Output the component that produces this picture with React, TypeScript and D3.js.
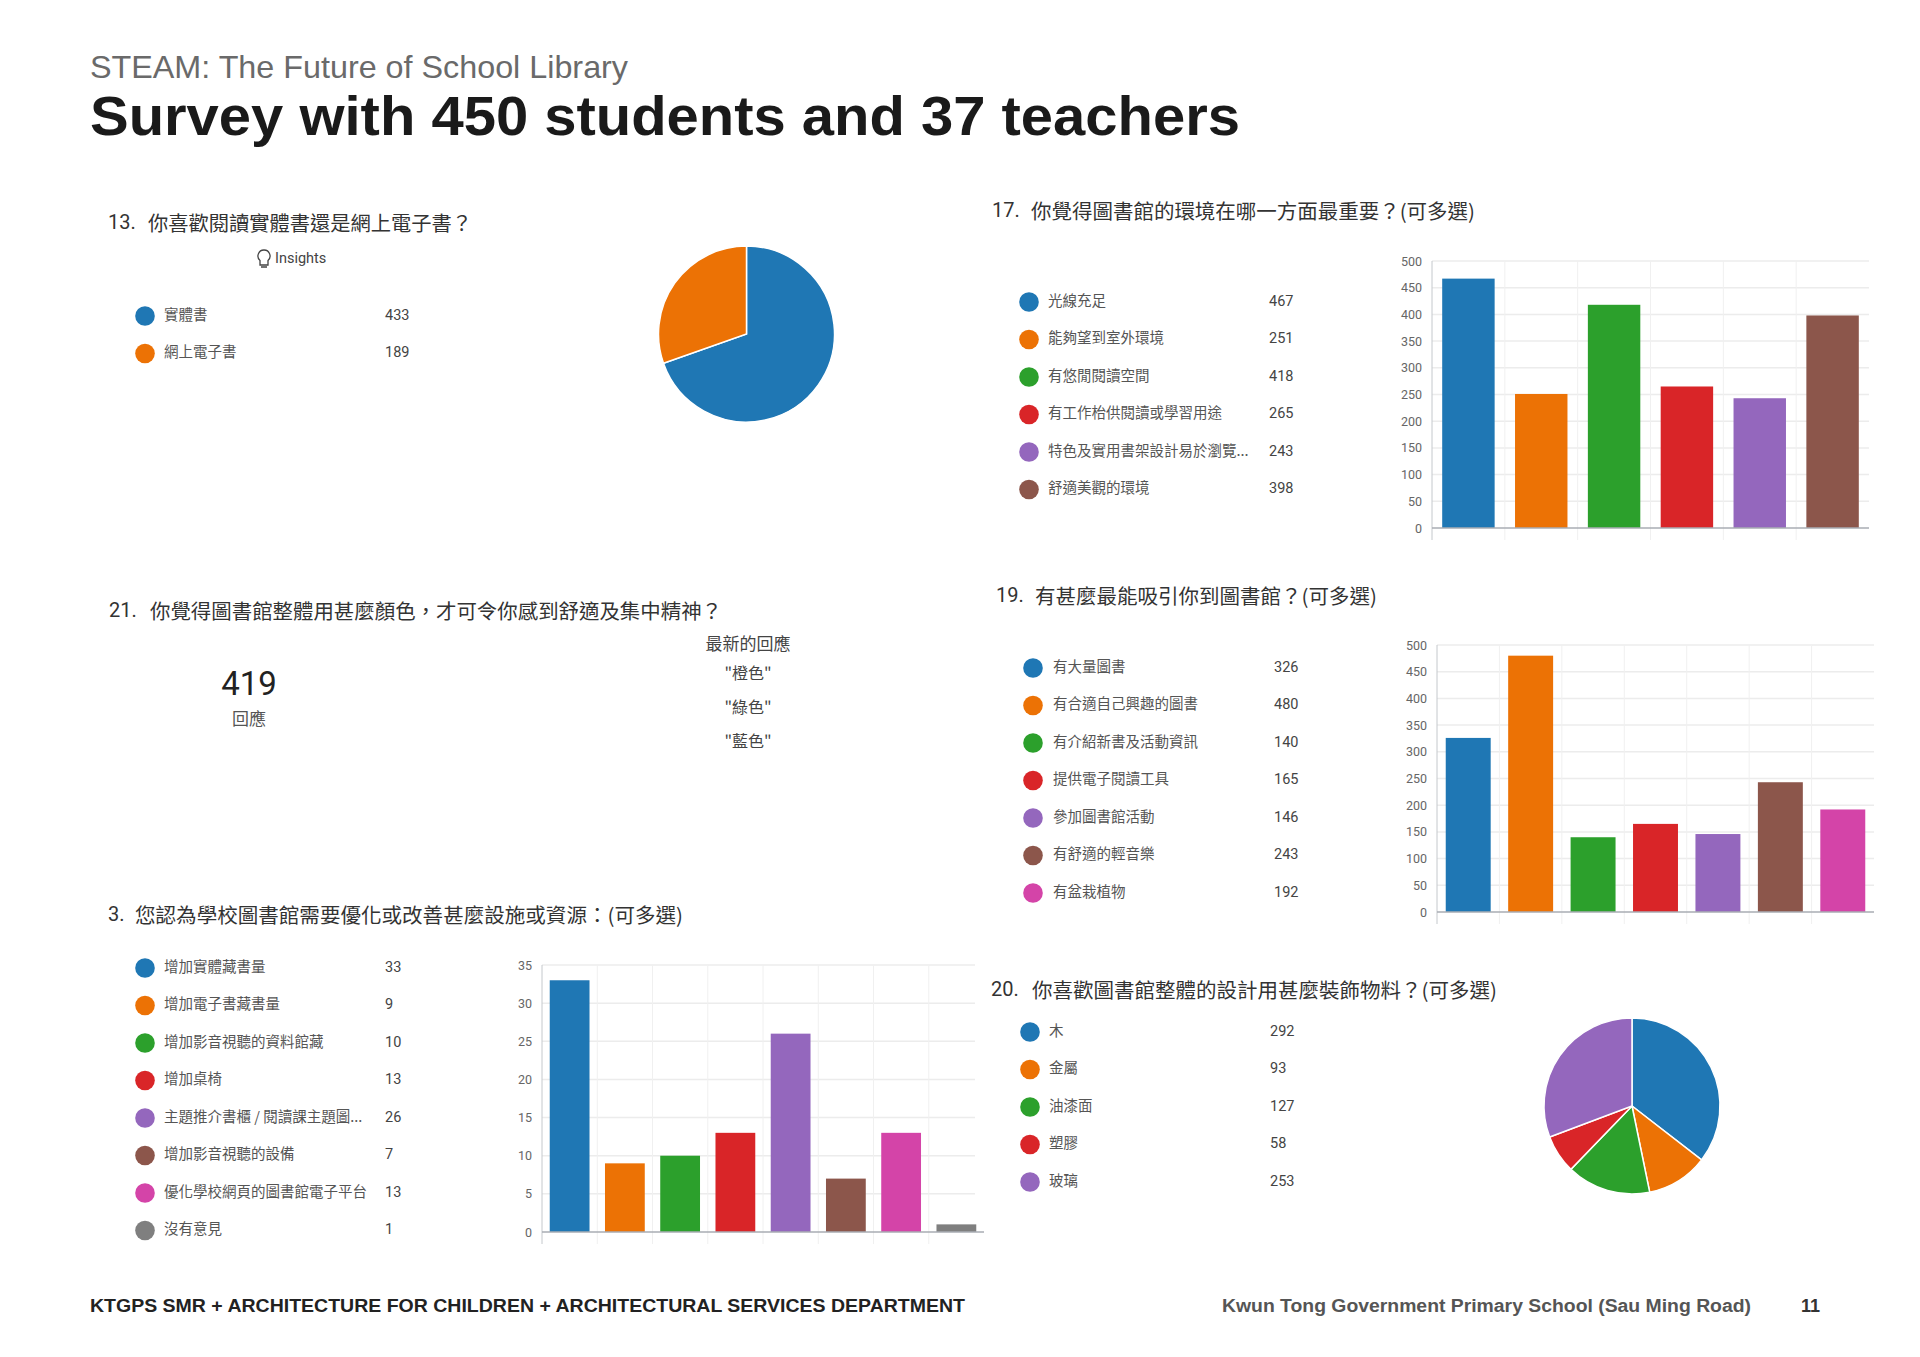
import React from "react";
import * as d3 from "d3";

const COLORS = ["#1f77b4", "#ec7205", "#2ca02c", "#d92528", "#9467bd", "#8c564b", "#d444a8", "#7f7f7f"];
const CJK = "'Noto Sans CJK TC','Noto Sans CJK SC',sans-serif";
const SANS = "'Liberation Sans',Arial,sans-serif";

const q13Labels = ["實體書", "網上電子書"];
const q13Values = [433, 189];
const q17Labels = ["光線充足", "能夠望到室外環境", "有悠閒閱讀空間", "有工作枱供閱讀或學習用途", "特色及實用書架設計易於瀏覽...", "舒適美觀的環境"];
const q17Values = [467, 251, 418, 265, 243, 398];
const q19Labels = ["有大量圖書", "有合適自己興趣的圖書", "有介紹新書及活動資訊", "提供電子閱讀工具", "參加圖書館活動", "有舒適的輕音樂", "有盆栽植物"];
const q19Values = [326, 480, 140, 165, 146, 243, 192];
const q3Labels = ["增加實體藏書量", "增加電子書藏書量", "增加影音視聽的資料館藏", "增加桌椅", "主題推介書櫃 / 閱讀課主題圖...", "增加影音視聽的設備", "優化學校網頁的圖書館電子平台", "沒有意見"];
const q3Values = [33, 9, 10, 13, 26, 7, 13, 1];
const q20Labels = ["木", "金屬", "油漆面", "塑膠", "玻璃"];
const q20Values = [292, 93, 127, 58, 253];
const latestAnswers = ["\"橙色\"", "\"綠色\"", "\"藍色\""];

function Title({ n, x, tx, y, end, children }: any) {
  return (
    <g fontSize={20} fill="#333">
      <text x={x} y={y} dominantBaseline="central" fontFamily="Roboto,sans-serif">{n}</text>
      <text x={tx} y={y} dominantBaseline="central" fontFamily={CJK}
        textLength={end - tx} lengthAdjust="spacingAndGlyphs">{children}</text>
    </g>
  );
}

function Legend({ labels, values, cx, top, textX, valueX }: any) {
  return (
    <g>
      {labels.map((l: string, i: number) => {
        const y = top + i * 37.5;
        return (
          <g key={l}>
            <circle cx={cx} cy={y} r={9.8} fill={COLORS[i]} />
            <text x={textX} y={y - 3} dominantBaseline="central" fontFamily={CJK} fontSize={14.5} fill="#555">{l}</text>
            <text x={valueX} y={y - 1} dominantBaseline="central" fontFamily="Roboto,sans-serif" fontSize={14.5} fill="#444">{values[i]}</text>
          </g>
        );
      })}
    </g>
  );
}

function Bars({ values, x0, x1, y0, y1, max, step, gridEnd }: any) {
  const x = d3.scaleBand<number>().domain(values.map((_: number, i: number) => i)).range([x0, x1]).paddingInner(0.28).paddingOuter(0.14);
  const y = d3.scaleLinear().domain([0, max]).range([y0, y1]);
  const ticks = d3.range(0, max + step, step);
  const end = gridEnd ?? x1;
  const vert = d3.range(0, values.length).map((i) => x0 + (i * (x1 - x0)) / values.length);
  return (
    <g>
      {ticks.map((t: number) => (
        <g key={t}>
          {t > 0 && <line x1={x0} x2={end} y1={y(t)} y2={y(t)} stroke="#ececec" strokeWidth={1.5} />}
          <text x={x0 - 10} y={y(t)} textAnchor="end" dominantBaseline="central" fontFamily="Roboto,sans-serif" fontSize={12.5} fill="#666">{t}</text>
        </g>
      ))}
      {vert.map((v: number, i: number) => (
        <line key={i} x1={v} x2={v} y1={y1} y2={y0 + 12} stroke={i === 0 ? "#c4c8cc" : "#f0f0f0"} strokeWidth={1} />
      ))}
      {values.map((v: number, i: number) => (
        <rect key={i} x={x(i)} y={y(v)} width={x.bandwidth()} height={y0 - y(v)} fill={COLORS[i]} />
      ))}
      <line x1={x0} x2={x1} y1={y0} y2={y0} stroke="#a9adb3" strokeWidth={1.5} />
    </g>
  );
}

function Pie({ values, cx, cy, r }: any) {
  const arcs = d3.pie<number>().sort(null)(values);
  const arc = d3.arc<d3.PieArcDatum<number>>().innerRadius(0).outerRadius(r);
  return (
    <g transform={`translate(${cx},${cy})`}>
      {arcs.map((a, i) => (
        <path key={i} d={arc(a) as string} fill={COLORS[i]} stroke="#fff" strokeWidth={1.5} />
      ))}
    </g>
  );
}

export default function App() {
  return (
    <svg width={1920} height={1357} style={{ position: "absolute", left: 0, top: 0, background: "#fff" }}>
      <text x={90} y={78} fontFamily={SANS} fontSize={32} fill="#6a6a6a" textLength={538} lengthAdjust="spacingAndGlyphs">STEAM: The Future of School Library</text>
      <text x={90} y={135} fontFamily={SANS} fontSize={56} fontWeight={700} fill="#1a1a1a" textLength={1150} lengthAdjust="spacingAndGlyphs">Survey with 450 students and 37 teachers</text>

      <Title n="13." x={108} tx={148} y={222} end={472}>你喜歡閱讀實體書還是網上電子書？</Title>
      <path d="M264 250a6 6 0 0 1 4 10.5v4.5h-8v-4.5a6 6 0 0 1 4-10.5z M261 267h6" fill="none" stroke="#444" strokeWidth={1.3} />
      <text x={275} y={258} dominantBaseline="central" fontFamily="Roboto,sans-serif" fontSize={14.5} fill="#444">Insights</text>
      <Legend labels={q13Labels} values={q13Values} cx={145} top={316} textX={164} valueX={385} />
      <Pie values={q13Values} cx={746.5} cy={334} r={88} />

      <Title n="17." x={992} tx={1031} y={210} end={1475}>你覺得圖書館的環境在哪一方面最重要？(可多選)</Title>
      <Legend labels={q17Labels} values={q17Values} cx={1029} top={302} textX={1048} valueX={1269} />
      <Bars values={q17Values} x0={1432} x1={1869} y0={528} y1={261} max={500} step={50} />

      <Title n="21." x={109} tx={150} y={610} end={722}>你覺得圖書館整體用甚麼顏色，才可令你感到舒適及集中精神？</Title>
      <text x={249} y={683} textAnchor="middle" dominantBaseline="central" fontFamily="Roboto,sans-serif" fontSize={33} fill="#222">419</text>
      <text x={249} y={717} textAnchor="middle" dominantBaseline="central" fontFamily={CJK} fontSize={17} fill="#555">回應</text>
      <text x={748} y={642} textAnchor="middle" dominantBaseline="central" fontFamily={CJK} fontSize={17} fill="#444">最新的回應</text>
      {latestAnswers.map((s, i) => (
        <text key={s} x={748} y={672 + i * 34} textAnchor="middle" dominantBaseline="central" fontFamily={CJK} fontSize={16} fill="#444">{s}</text>
      ))}

      <Title n="19." x={996} tx={1035} y={595} end={1377}>有甚麼最能吸引你到圖書館？(可多選)</Title>
      <Legend labels={q19Labels} values={q19Values} cx={1033} top={668} textX={1053} valueX={1274} />
      <Bars values={q19Values} x0={1437} x1={1874} y0={912} y1={645} max={500} step={50} />

      <Title n="3." x={108} tx={135} y={914} end={683}>您認為學校圖書館需要優化或改善甚麼設施或資源：(可多選)</Title>
      <Legend labels={q3Labels} values={q3Values} cx={145} top={968} textX={164} valueX={385} />
      <Bars values={q3Values} x0={542} x1={984} y0={1232} y1={965} max={35} step={5} gridEnd={975} />

      <Title n="20." x={991} tx={1032} y={989} end={1497}>你喜歡圖書館整體的設計用甚麼裝飾物料？(可多選)</Title>
      <Legend labels={q20Labels} values={q20Values} cx={1030} top={1032} textX={1049} valueX={1270} />
      <Pie values={q20Values} cx={1632} cy={1106} r={88} />

      <text x={90} y={1312} fontFamily={SANS} fontSize={18} fontWeight={700} fill="#222" textLength={875} lengthAdjust="spacingAndGlyphs">KTGPS SMR + ARCHITECTURE FOR CHILDREN + ARCHITECTURAL SERVICES DEPARTMENT</text>
      <text x={1222} y={1312} fontFamily={SANS} fontSize={18} fontWeight={700} fill="#555" textLength={529} lengthAdjust="spacingAndGlyphs">Kwun Tong Government  Primary School (Sau Ming Road)</text>
      <text x={1801} y={1312} fontFamily={SANS} fontSize={18} fontWeight={700} fill="#333">11</text>
    </svg>
  );
}
